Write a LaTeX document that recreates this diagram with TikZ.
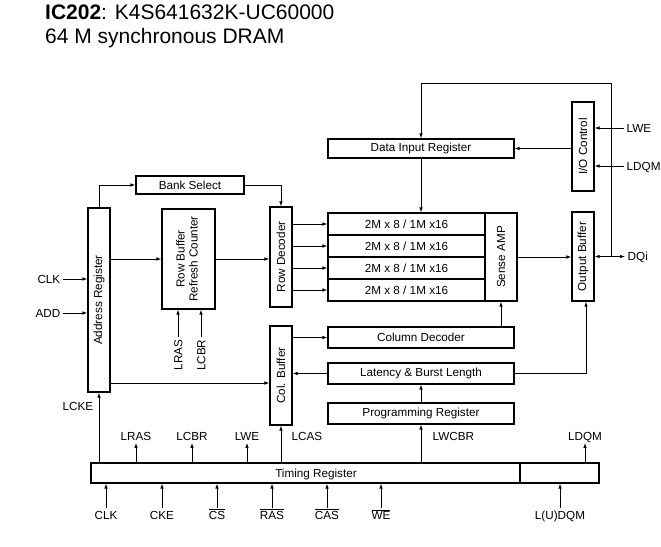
\documentclass[tikz,border=0pt]{standalone}
\usepackage{fontspec}
\setmainfont{Liberation Sans}
\usetikzlibrary{arrows.meta, positioning, calc}

\begin{document}
\begin{tikzpicture}[x=1pt, y=-1pt,
    box/.style={draw, line width=1.1pt, inner sep=0pt, font=\fontsize{11.7}{13}\selectfont},
    lbl/.style={inner sep=2.5pt, text height=8.5pt, text depth=0pt, font=\fontsize{11.7}{13}\selectfont},
    arr/.style={-{Latex[length=5pt, width=3.6pt]}, line width=0.9pt},
    dblarr/.style={{Latex[length=5pt, width=3.6pt]}-{Latex[length=5pt, width=3.6pt]}, line width=0.9pt}]
    \useasboundingbox (0,0) rectangle (661,546);

    % Title
    \node[anchor=base west, inner sep=0pt, font=\fontsize{21}{24}\selectfont] (title) at (45,19.5) {\textbf{IC202}: K4S641632K-UC60000};
    \node[anchor=base west, inner sep=0pt, font=\fontsize{21}{24}\selectfont] (subtitle) at (45,43.5) {64 M synchronous DRAM};

    % Left blocks
    \node[box, minimum width=22, minimum height=184] (addr) at (99,300) {\rotatebox{90}{Address Register}};
    \node[box, minimum width=108, minimum height=18] (bank) at (190,185) {Bank Select};
    \node[box, minimum width=53, minimum height=100] (rowbuf) at (188.5,259) {\rotatebox{90}{\begin{tabular}{@{}c@{}}Row Buffer\\Refresh Counter\end{tabular}}};
    \node[box, minimum width=22, minimum height=100] (rowdec) at (281,257) {\rotatebox{90}{Row Decoder}};
    \node[box, minimum width=22, minimum height=99] (colbuf) at (281,375.5) {\rotatebox{90}{Col. Buffer}};

    % Memory array
    \foreach \i in {1,...,4} {
        \node[box, minimum width=157, minimum height=22] (arr\i) at (406.5,202+22*\i) {2M x 8 / 1M x16};
    }
    \node[box, minimum width=32, minimum height=88] (sense) at (501,257) {\rotatebox{90}{Sense AMP}};

    % Right blocks
    \node[box, minimum width=186, minimum height=19] (dir) at (421,148.5) {Data Input Register};
    \node[box, minimum width=22, minimum height=89] (ioc) at (583,146.5) {\rotatebox{90}{I/O Control}};
    \node[box, minimum width=22, minimum height=89] (obuf) at (583,256.5) {\rotatebox{90}{Output Buffer}};
    \node[box, minimum width=186, minimum height=21] (coldec) at (421,337.5) {Column Decoder};
    \node[box, minimum width=186, minimum height=21] (lat) at (421,373.5) {Latency \& Burst Length};
    \node[box, minimum width=186, minimum height=21] (prog) at (421,413.5) {Programming Register};

    % Timing register
    \node[box, minimum width=429, minimum height=20] (timing) at (305.5,473) {};
    \node[lbl] (timingtxt) at (316,473) {Timing Register};
    \node[box, minimum width=79, minimum height=20] (dqmreg) at (559.5,473) {};

    % Internal connections
    \draw[arr] (addr.north) |- (bank.west);
    \draw[arr] (bank.east) -| (rowdec.north);
    \draw[arr] (rowbuf.west -| addr.east) -- (rowbuf.west);
    \draw[arr] (rowbuf.east) -- (rowbuf.east -| rowdec.west);
    \foreach \i in {1,...,4} {
        \draw[arr] (arr\i.west -| rowdec.east) -- (arr\i.west);
    }
    \coordinate (a2c) at ($(addr.east)+(0,83)$);
    \draw[arr] (a2c) -- (a2c -| colbuf.west);
    \draw[arr] (coldec.west -| colbuf.east) -- (coldec.west);
    \draw[arr] (lat.west) -- (lat.west -| colbuf.east);
    \draw[arr] (sense.south |- coldec.north) -- (sense.south);
    \draw[arr] (sense.east) -- (sense.east -| obuf.west);
    \draw[arr] (lat.east) -| ([xshift=3pt]obuf.south);
    \draw[arr] (prog.north) -- (lat.south);
    \draw[arr] (dir.south) -- (arr1.north -| dir.south);
    \draw[arr] (ioc.west |- dir.east) -- (dir.east);

    % Data bus
    \coordinate (bus) at ($(obuf.east)+(17,0)$);
    \draw[line width=0.9pt, -{Latex[length=5pt, width=3.6pt]}] (bus) -- ++(0,-173.5) -| (dir.north);
    \node[lbl, anchor=west] (dqi) at (625,256.5) {DQi};
    \draw[dblarr] (obuf.east) -- (dqi.west);

    % Inputs on the left and right
    \node[lbl, anchor=east] (clkin) at (63,279) {CLK};
    \node[lbl, anchor=east] (addin) at (63,313) {ADD};
    \draw[arr] (clkin.east) -- (clkin.east -| addr.west);
    \draw[arr] (addin.east) -- (addin.east -| addr.west);
    \node[lbl, anchor=west] (lwein) at (624,128) {LWE};
    \node[lbl, anchor=west] (ldqmin) at (624,166) {LDQM};
    \draw[arr] (lwein.west) -- (lwein.west -| ioc.east);
    \draw[arr] (ldqmin.west) -- (ldqmin.west -| ioc.east);

    % Refresh inputs
    \node[lbl, anchor=east, rotate=90] (rlras) at (178,337) {LRAS};
    \node[lbl, anchor=east, rotate=90] (rlcbr) at (201,337) {LCBR};
    \draw[arr] (rlras.east) -- (rlras.east |- rowbuf.south);
    \draw[arr] (rlcbr.east) -- (rlcbr.east |- rowbuf.south);

    % Timing register outputs
    \node[lbl, anchor=east] (tlcke) at (96,406) {LCKE};
    \draw[arr] (addr.south |- timing.north) -- (addr.south);
    \node[lbl] (tlras) at (136,436) {LRAS};
    \node[lbl] (tlcbr) at (192,436) {LCBR};
    \node[lbl] (tlwe) at (247,436) {LWE};
    \node[lbl] (tldqm) at (585,436) {LDQM};
    \foreach \n in {tlras, tlcbr, tlwe, tldqm} {
        \draw[arr] (\n.south |- timing.north) -- (\n.south);
    }
    \node[lbl, anchor=west] (tlcas) at (289,436) {LCAS};
    \draw[arr] (colbuf.south |- timing.north) -- (colbuf.south);
    \node[lbl, anchor=west] (tlwcbr) at (430,436) {LWCBR};
    \draw[arr] (prog.south |- timing.north) -- (prog.south);

    % Timing register inputs
    \node[lbl] (iclk) at (106,515) {CLK};
    \node[lbl] (icke) at (162,515) {CKE};
    \node[lbl] (ics) at (217,515) {$\overline{\mbox{CS}}$};
    \node[lbl] (iras) at (272,515) {$\overline{\mbox{RAS}}$};
    \node[lbl] (icas) at (327,515) {$\overline{\mbox{CAS}}$};
    \node[lbl] (iwe) at (381,515) {$\overline{\mbox{WE}}$};
    \foreach \n in {iclk, icke, ics, iras, icas, iwe} {
        \draw[arr] (\n.north) -- (\n.north |- timing.south);
    }
    \node[lbl] (iudqm) at (560,515) {L(U)DQM};
    \draw[arr] (iudqm.north) -- (iudqm.north |- dqmreg.south);
\end{tikzpicture}
\end{document}
